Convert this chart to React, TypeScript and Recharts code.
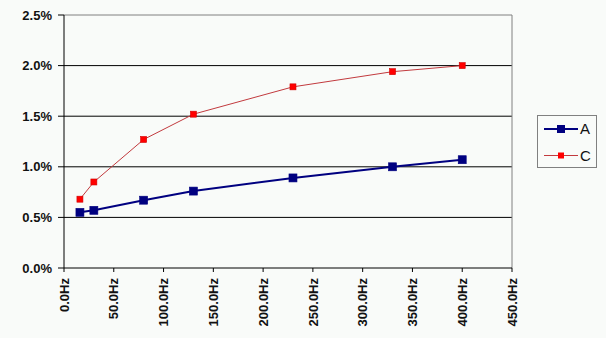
import {
    LineChart,
    Line,
    XAxis,
    YAxis,
    CartesianGrid,
    Legend,
    ReferenceLine,
} from 'recharts';

// measurement points (Hz) and the two response curves (%)
const frequencies = [16, 30, 80, 130, 230, 330, 400];
const seriesA = [0.55, 0.57, 0.67, 0.76, 0.89, 1.0, 1.07];
const seriesC = [0.68, 0.85, 1.27, 1.52, 1.79, 1.94, 2.0];

const xTicks = [0, 50, 100, 150, 200, 250, 300, 350, 400, 450];
const yTicks = [0, 0.5, 1.0, 1.5, 2.0, 2.5];
const gridValues = [0.5, 1.0, 1.5, 2.0];

const data = frequencies.map((f, i) => ({ freq: f, A: seriesA[i], C: seriesC[i] }));

const BG = '#f9fbf9';
const FONT = '"Liberation Sans", Arial, sans-serif';
const NAVY = '#000080';
const RED = '#ff0000';
const RED_LINE = '#c23a3e';

const SquareDot = ({ cx, cy, size, fill, stroke }: any) => {
    if (cx == null || cy == null) return null;
    return (
        <rect
            x={cx - size / 2}
            y={cy - size / 2}
            width={size}
            height={size}
            fill={fill}
            stroke={stroke}
            strokeWidth={0.6}
        />
    );
};

const HzTick = ({ x, y, payload }: any) => (
    <g transform={`translate(${x},${y})`}>
        <text
            transform="rotate(-90)"
            textAnchor="end"
            dy="0.36em"
            fill="#111"
            style={{ fontFamily: FONT, fontSize: 13, fontWeight: 700 }}
        >
            {`${payload.value.toFixed(1)}Hz`}
        </text>
    </g>
);

const legendStyle: Record<string, { stroke: string; width: number; fill: string; size: number }> = {
    A: { stroke: NAVY, width: 2, fill: NAVY, size: 8 },
    C: { stroke: RED_LINE, width: 1, fill: RED, size: 6 },
};

const LegendBox = ({ payload }: any) => (
    <div style={{ border: '1px solid #808080', background: BG, width: 58, height: 51 }}>
        <svg width={58} height={51}>
            {(payload || []).map((item: any, i: number) => {
                const s = legendStyle[item.value];
                const cy = 13 + i * 26.5;
                return (
                    <g key={item.value}>
                        <line x1={6} x2={40} y1={cy} y2={cy} stroke={s.stroke} strokeWidth={s.width} />
                        <rect x={23 - s.size / 2} y={cy - s.size / 2} width={s.size} height={s.size} fill={s.fill} />
                        <text
                            x={42}
                            y={cy}
                            dy="0.36em"
                            fill="#111"
                            style={{ fontFamily: FONT, fontSize: 15 }}
                        >
                            {item.value}
                        </text>
                    </g>
                );
            })}
        </svg>
    </div>
);

export default function App() {
    return (
        <div style={{ position: 'absolute', left: 0, top: 0, width: 606, height: 338, background: BG }}>
            <LineChart
                width={606}
                height={338}
                data={data}
                margin={{ top: 15, right: 94, bottom: 0, left: 0 }}
                style={{ background: BG }}
            >
                <CartesianGrid
                    vertical={false}
                    horizontalValues={gridValues}
                    stroke="#000"
                    strokeWidth={1}
                />
                <ReferenceLine y={2.5} stroke="#808080" ifOverflow="extendDomain" />
                <ReferenceLine x={450} stroke="#808080" ifOverflow="extendDomain" />
                <XAxis
                    type="number"
                    dataKey="freq"
                    domain={[0, 450]}
                    ticks={xTicks}
                    interval={0}
                    height={70}
                    tickSize={4}
                    tickMargin={6}
                    stroke="#000"
                    tick={<HzTick />}
                />
                <YAxis
                    type="number"
                    domain={[0, 2.5]}
                    ticks={yTicks}
                    interval={0}
                    width={64}
                    tickSize={6}
                    tickMargin={6}
                    stroke="#000"
                    tickFormatter={(v: number) => `${v.toFixed(1)}%`}
                    tick={{ fill: '#111', fontFamily: FONT, fontSize: 13, fontWeight: 700 }}
                />
                <Legend
                    layout="vertical"
                    align="center"
                    verticalAlign="middle"
                    wrapperStyle={{ left: 537, top: 115, width: 60, height: 53 }}
                    content={<LegendBox />}
                />
                <Line
                    type="linear"
                    dataKey="A"
                    name="A"
                    stroke={NAVY}
                    strokeWidth={2}
                    dot={<SquareDot size={8} fill={NAVY} stroke={NAVY} />}
                    activeDot={false}
                    isAnimationActive={false}
                />
                <Line
                    type="linear"
                    dataKey="C"
                    name="C"
                    stroke={RED_LINE}
                    strokeWidth={1}
                    dot={<SquareDot size={6} fill={RED} stroke="#d00000" />}
                    activeDot={false}
                    isAnimationActive={false}
                />
            </LineChart>
        </div>
    );
}
